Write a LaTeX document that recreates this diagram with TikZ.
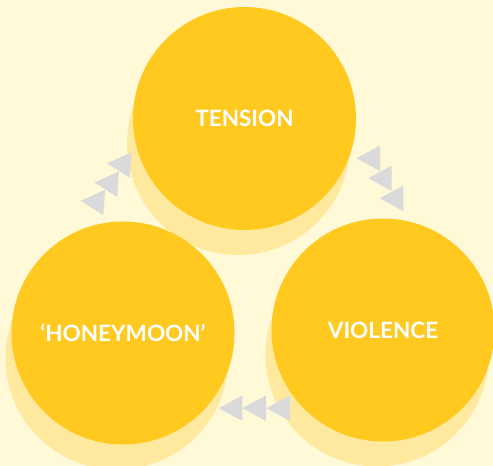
\documentclass[tikz,border=0pt]{standalone}
\usepackage{fontspec}
\setmainfont{Lato}
\usetikzlibrary{shadows}

\definecolor{bgyellow}{RGB}{255,249,216}
\definecolor{stageyellow}{RGB}{255,201,32}
\definecolor{paleyellow}{RGB}{255,233,158}
\definecolor{chevgray}{RGB}{218,218,218}

\begin{document}
\begin{tikzpicture}[x=1pt, y=-1pt,
    stage/.style={circle, fill=stageyellow, minimum size=223pt, inner sep=0pt,
        text=white, font=\fontsize{22.5}{25}\selectfont\bfseries,
        drop shadow={shadow xshift=-6pt, shadow yshift=-25pt, fill=paleyellow, opacity=1}},
    chev/.pic={\fill[chevgray] (0,-12.75) -- (0,12.75) -- (-23.5,0) -- cycle;}]
    \fill[bgyellow] (0,0) rectangle (493,466);
    \useasboundingbox (0,0) rectangle (493,466);
    \clip (0,0) rectangle (493,466);

    \node[stage] (tension) at (244.5,118.5) {TENSION};
    \node[stage] (honeymoon) at (123,333) {`HONEYMOON'};
    \node[stage] (violence) at (383,330) {VIOLENCE};

    % tension -> violence
    \foreach \x/\y in {380/158.3, 391.7/178.3, 403.3/198.3}
        \pic at (\x,\y) {chev};
    % violence -> honeymoon
    \foreach \x in {242.3, 266, 290}
        \pic at (\x,408.2) {chev};
    % honeymoon -> tension
    \foreach \x/\y in {130.5/165, 118/184.2, 104.2/202.5}
        \pic[rotate=-4] at (\x,\y) {chev};
\end{tikzpicture}
\end{document}
